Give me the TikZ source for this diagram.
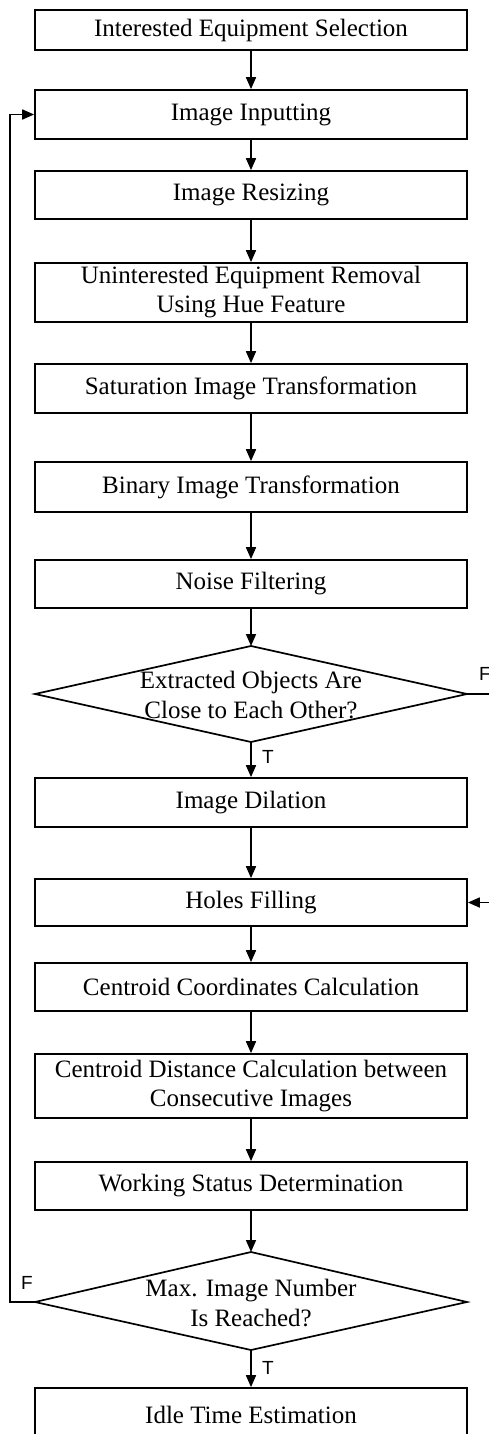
\documentclass[tikz,border=0pt]{standalone}
\usepackage{fontspec}
\setmainfont{Liberation Serif}
\newfontfamily\labelfont{Liberation Sans}
\usetikzlibrary{arrows.meta}

\tikzset{
  box/.style={draw, minimum width=432pt, inner sep=0pt,
    align=center, font=\fontsize{25}{29}\selectfont},
  dtext/.style={inner sep=0pt, align=center, font=\fontsize{25}{30}\selectfont},
  arr/.style={-{Triangle[length=12pt,width=10pt]}},
  flag/.style={inner sep=0pt, font=\labelfont\fontsize{19}{19}\selectfont}
}

\begin{document}
\begin{tikzpicture}[x=1pt, y=-1pt, line width=1.7pt]
\useasboundingbox (0,0) rectangle (489,1434);
\clip (0,0) rectangle (489,1434);

% process boxes
\node[box, minimum height=40pt] (b1) at (251,30)    {Interested Equipment Selection};
\node[box, minimum height=49pt] (b2) at (251,114.5) {Image Inputting};
\node[box, minimum height=48pt] (b3) at (251,195)   {Image Resizing};
\node[box, minimum height=59pt] (b4) at (251,292.5) {Uninterested Equipment Removal\\Using Hue Feature};
\node[box, minimum height=49pt] (b5) at (251,388.5) {Saturation Image Transformation};
\node[box, minimum height=50pt] (b6) at (251,487)   {Binary Image Transformation};
\node[box, minimum height=48pt] (b7) at (251,584)   {Noise Filtering};

% first decision
\coordinate (d1t) at (251,646);
\coordinate (d1r) at (467,694);
\coordinate (d1b) at (251,742);
\coordinate (d1l) at (35,694);
\draw (d1t) -- (d1r) -- (d1b) -- (d1l) -- cycle;
\node[dtext] (d1) at (251,695) {Extracted Objects Are\\Close to Each Other?};

\node[box, minimum height=49pt] (b8)  at (251,802.5) {Image Dilation};
\node[box, minimum height=47pt] (b9)  at (251,902.5) {Holes Filling};
\node[box, minimum height=48pt] (b10) at (251,987)   {Centroid Coordinates Calculation};
\node[box, minimum height=64pt] (b11) at (251,1086)  {Centroid Distance Calculation between\\Consecutive Images};
\node[box, minimum height=48pt] (b12) at (251,1186)  {Working Status Determination};

% second decision
\coordinate (d2t) at (251,1252);
\coordinate (d2r) at (467,1302);
\coordinate (d2b) at (251,1350);
\coordinate (d2l) at (35,1302);
\draw (d2t) -- (d2r) -- (d2b) -- (d2l) -- cycle;
\node[dtext] (d2) at (251,1303) {Max. Image Number\\Is Reached?};

\node[box, minimum height=54pt] (b13) at (251,1415) {Idle Time Estimation};

% main flow
\draw[arr] (b1) -- (b2);
\draw[arr] (b2) -- (b3);
\draw[arr] (b3) -- (b4);
\draw[arr] (b4) -- (b5);
\draw[arr] (b5) -- (b6);
\draw[arr] (b6) -- (b7);
\draw[arr] (b7) -- (d1t);
\draw[arr] (d1b) -- (b8);
\draw[arr] (b8) -- (b9);
\draw[arr] (b9) -- (b10);
\draw[arr] (b10) -- (b11);
\draw[arr] (b11) -- (b12);
\draw[arr] (b12) -- (d2t);
\draw[arr] (d2b) -- (b13);

% false branch of the first decision, rejoining at holes filling
\coordinate (r1) at (492,694);
\coordinate (r2) at (492,902.5);
\draw (d1r) -- (r1);
\draw[arr] (r2) -- (b9.east);

% loop back to the next image
\coordinate (lc) at (10,1302);
\draw[arr] (d2l) -- (lc) |- (b2.west);

% branch labels
\node[flag] (t1) at (268,757)  {T};
\node[flag] (f1) at (485,674)  {F};
\node[flag] (t2) at (268,1368) {T};
\node[flag] (f2) at (27,1283)  {F};
\end{tikzpicture}
\end{document}
